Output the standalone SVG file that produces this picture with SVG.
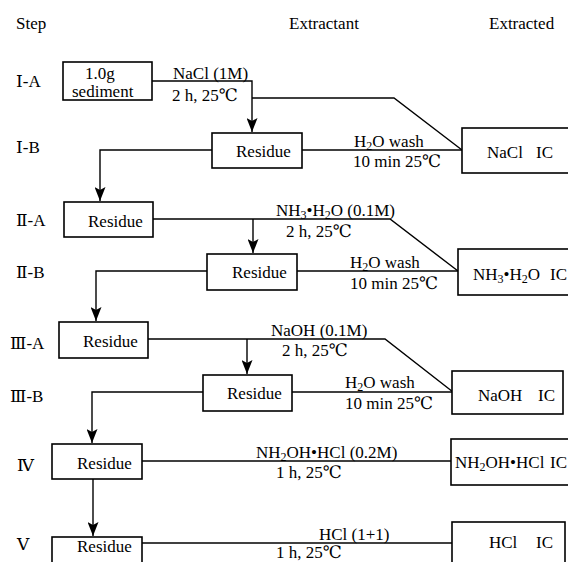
<svg xmlns="http://www.w3.org/2000/svg" width="568" height="562" viewBox="0 0 568 562">
<style>
text{font-family:"Liberation Serif","DejaVu Serif","Noto Sans CJK SC",serif;font-size:17px;fill:#000}
.sub{font-size:12px}
.box{fill:#fff;stroke:#000;stroke-width:1.6}
.c{fill:none;stroke:#000;stroke-width:1.4}
</style>
<defs>
<marker id="ah" viewBox="0 0 14 11" refX="14" refY="5.5" markerWidth="14" markerHeight="11" markerUnits="userSpaceOnUse" orient="auto">
<path d="M0,0 L14,5.5 L0,11 L3,5.5 z" fill="#000"/>
</marker>
</defs>
<rect width="568" height="562" fill="#fff"/>
<g id="headers">
<text x="16" y="29">Step</text>
<text x="289" y="29">Extractant</text>
<text x="489" y="29">Extracted</text>
</g>
<g id="steps">
<text x="16" y="87">Ⅰ-A</text>
<text x="16" y="153">Ⅰ-B</text>
<text x="16" y="226">Ⅱ-A</text>
<text x="16" y="278">Ⅱ-B</text>
<text x="10" y="349">Ⅲ-A</text>
<text x="10" y="402">Ⅲ-B</text>
<text x="17" y="471">Ⅳ</text>
<text x="17" y="550">Ⅴ</text>
</g>
<g id="connectors">
<path class="c" d="M152,81 H252 V132" marker-end="url(#ah)"/>
<path class="c" d="M252,98 H394 L462,150"/>
<path class="c" d="M302,150 H462"/>
<path class="c" d="M212,150 H100 V201" marker-end="url(#ah)"/>
<path class="c" d="M153,219 H390 L458,271"/>
<path class="c" d="M253,219 V253" marker-end="url(#ah)"/>
<path class="c" d="M297,271 H458"/>
<path class="c" d="M207,271 H96 V321" marker-end="url(#ah)"/>
<path class="c" d="M148,339 H385 L453,392"/>
<path class="c" d="M247,339 V374" marker-end="url(#ah)"/>
<path class="c" d="M292,392 H453"/>
<path class="c" d="M203,392 H92 V443" marker-end="url(#ah)"/>
<path class="c" d="M142,461 H451"/>
<path class="c" d="M93,479 V536" marker-end="url(#ah)"/>
<path class="c" d="M142,543 H452"/>
</g>
<g id="labels">
<text x="173" y="79">NaCl (1M)</text>
<text x="172" y="101">2 h, 25℃</text>
<text x="354" y="147">H<tspan class="sub" dy="3">2</tspan><tspan dy="-3">O wash</tspan></text>
<text x="353" y="167">10 min 25℃</text>
<text x="276" y="216">NH<tspan class="sub" dy="3">3</tspan><tspan dy="-3">•H</tspan><tspan class="sub" dy="3">2</tspan><tspan dy="-3">O (0.1M)</tspan></text>
<text x="286" y="237">2 h, 25℃</text>
<text x="350" y="268">H<tspan class="sub" dy="3">2</tspan><tspan dy="-3">O wash</tspan></text>
<text x="350" y="289">10 min 25℃</text>
<text x="271" y="336">NaOH (0.1M)</text>
<text x="282" y="356">2 h, 25℃</text>
<text x="345" y="388">H<tspan class="sub" dy="3">2</tspan><tspan dy="-3">O wash</tspan></text>
<text x="345" y="409">10 min 25℃</text>
<text x="256" y="458">NH<tspan class="sub" dy="3">2</tspan><tspan dy="-3">OH•HCl (0.2M)</tspan></text>
<text x="276" y="478">1 h, 25℃</text>
<text x="319" y="540">HCl (1+1)</text>
<text x="276" y="558">1 h, 25℃</text>
</g>
<g id="sediment">
<rect class="box" x="63" y="62" width="89" height="38"/>
<text x="85" y="79">1.0g</text>
<text x="72" y="97">sediment</text>
</g>
<g id="residue-IB">
<rect class="box" x="212" y="133" width="90" height="35"/>
<text x="236" y="157">Residue</text>
</g>
<g id="nacl-ic">
<rect class="box" x="462" y="128" width="115" height="45"/>
<text x="487" y="158">NaCl<tspan x="536">IC</tspan></text>
</g>
<g id="residue-IIA">
<rect class="box" x="64" y="202" width="89" height="35"/>
<text x="88" y="227">Residue</text>
</g>
<g id="residue-IIB">
<rect class="box" x="207" y="254" width="90" height="36"/>
<text x="232" y="278">Residue</text>
</g>
<g id="nh3-ic">
<rect class="box" x="458" y="249" width="119" height="46"/>
<text x="473" y="280">NH<tspan class="sub" dy="3">3</tspan><tspan dy="-3">•H</tspan><tspan class="sub" dy="3">2</tspan><tspan dy="-3">O</tspan><tspan x="550">IC</tspan></text>
</g>
<g id="residue-IIIA">
<rect class="box" x="59" y="322" width="89" height="36"/>
<text x="83" y="347">Residue</text>
</g>
<g id="residue-IIIB">
<rect class="box" x="203" y="375" width="89" height="36"/>
<text x="227" y="399">Residue</text>
</g>
<g id="naoh-ic">
<rect class="box" x="452" y="371" width="111" height="43"/>
<text x="478" y="401">NaOH<tspan x="538">IC</tspan></text>
</g>
<g id="residue-IV">
<rect class="box" x="52" y="444" width="90" height="35"/>
<text x="77" y="469">Residue</text>
</g>
<g id="nh2oh-ic">
<rect class="box" x="451" y="439" width="126" height="46"/>
<text x="455" y="468">NH<tspan class="sub" dy="3">2</tspan><tspan dy="-3">OH•HCl</tspan><tspan x="550">IC</tspan></text>
</g>
<g id="residue-V">
<rect class="box" x="52" y="537" width="90" height="35"/>
<text x="77" y="552">Residue</text>
</g>
<g id="hcl-ic">
<rect class="box" x="452" y="522" width="113" height="50"/>
<text x="489" y="548">HCl<tspan x="536">IC</tspan></text>
</g>
</svg>
